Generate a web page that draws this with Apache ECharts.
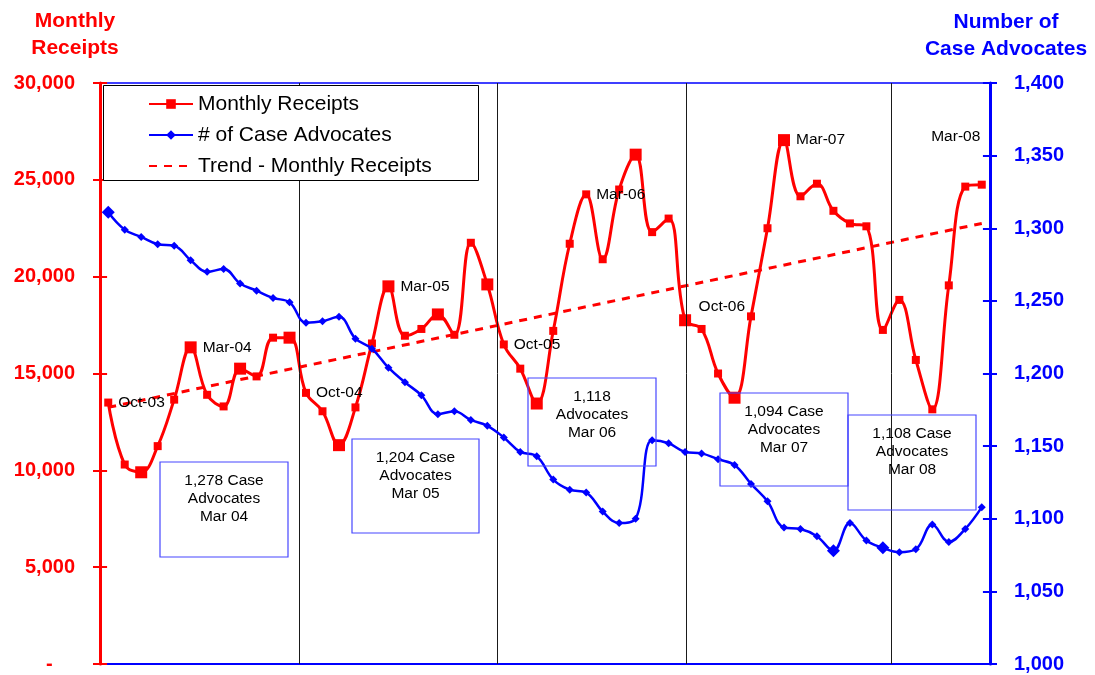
<!DOCTYPE html>
<html>
<head>
<meta charset="utf-8">
<script src="https://cdn.jsdelivr.net/npm/echarts@6/dist/echarts.min.js"></script>
<style>
  html, body { margin: 0; padding: 0; background: #fff; }
  #main { width: 1095px; height: 675px; }
</style>
</head>
<body>
<div id="main"></div>
<script>
// months on the x axis (Oct-03 .. Mar-08)
var months = ['Oct-03','Nov-03','Dec-03','Jan-04','Feb-04','Mar-04','Apr-04','May-04','Jun-04','Jul-04','Aug-04','Sep-04',
  'Oct-04','Nov-04','Dec-04','Jan-05','Feb-05','Mar-05','Apr-05','May-05','Jun-05','Jul-05','Aug-05','Sep-05',
  'Oct-05','Nov-05','Dec-05','Jan-06','Feb-06','Mar-06','Apr-06','May-06','Jun-06','Jul-06','Aug-06','Sep-06',
  'Oct-06','Nov-06','Dec-06','Jan-07','Feb-07','Mar-07','Apr-07','May-07','Jun-07','Jul-07','Aug-07','Sep-07',
  'Oct-07','Nov-07','Dec-07','Jan-08','Feb-08','Mar-08'];

var receipts = [13500, 10300, 9900, 11250, 13650, 16350, 13900, 13300, 15250, 14850, 16850, 16850,
  14000, 13050, 11300, 13250, 16550, 19500, 16950, 17300, 18050, 17000, 21750, 19600,
  16500, 15250, 13450, 17200, 21700, 24250, 20900, 24500, 26300, 22300, 23000, 17750,
  17300, 15000, 13750, 17950, 22500, 27050, 24150, 24800, 23400, 22750, 22600, 17250,
  18800, 15700, 13150, 19550, 24650, 24750];

var advocates = [1311, 1299, 1294, 1289, 1288, 1278, 1270, 1272, 1262, 1257, 1252, 1249,
  1235, 1236, 1239, 1224, 1217, 1204, 1194, 1185, 1172, 1174, 1168, 1164,
  1156, 1146, 1143, 1127, 1120, 1118, 1105, 1097, 1100, 1154, 1152, 1146,
  1145, 1141, 1137, 1124, 1112, 1094, 1093, 1088, 1078, 1097, 1085, 1080,
  1077, 1079, 1096, 1084, 1093, 1108];

// trend line end points (first and last month)
var trendEnds = [13250, 22750];

// tick values of both axes
var receiptTicks = [0, 5000, 10000, 15000, 20000, 25000, 30000];
var advocateTicks = [1000, 1050, 1100, 1150, 1200, 1250, 1300, 1350, 1400];

// point labels on the receipts line
var pointLabels = { 0: 'Oct-03', 5: 'Mar-04', 12: 'Oct-04', 17: 'Mar-05', 24: 'Oct-05',
  29: 'Mar-06', 36: 'Oct-06', 41: 'Mar-07', 53: 'Mar-08' };

// boxed notes
var notes = ['1,278 Case\nAdvocates\nMar 04', '1,204 Case\nAdvocates\nMar 05', '1,118\nAdvocates\nMar 06',
  '1,094 Case\nAdvocates\nMar 07', '1,108 Case\nAdvocates\nMar 08'];

// year divider positions (in month index units)
var dividers = [11.6, 23.6, 35.1, 47.5];

// ---- styling ----
var FONT = 'Arial, "Liberation Sans", sans-serif';
var bigRed = [2, 5, 8, 11, 14, 17, 20, 23, 26, 32, 35, 38, 41];
var bigBlue = [0, 44, 47];
var noteBoxes = [[160, 462, 128, 95], [352, 439, 127, 94], [528, 378, 128, 88], [720, 393, 128, 93], [848, 415, 128, 95]];
var labelOffsets = { 36: [-13, -22], 53: [-26, -30] };
var innerTick = 0.43; // inner tick length in month units (~7px)

var chart = echarts.init(document.getElementById('main'));

function fmtThousands(v) {
  return String(v).replace(/\B(?=(\d{3})+(?!\d))/g, ',');
}

var receiptData = receipts.map(function (v, i) {
  if (pointLabels[i] === undefined) return v;
  var lbl = { show: true, formatter: pointLabels[i], position: i === 53 ? 'top' : 'right', distance: 6,
    color: '#000', fontSize: 15.5, fontFamily: FONT };
  if (labelOffsets[i]) lbl.offset = labelOffsets[i];
  return { value: v, label: lbl };
});

var trendData = receipts.map(function () { return null; });
trendData[0] = trendEnds[0];
trendData[trendData.length - 1] = trendEnds[1];

var graphics = [
  { type: 'rect', left: 103, top: 85, z: 90,
    shape: { width: 375, height: 95 },
    style: { fill: '#fff', stroke: '#000', lineWidth: 1 } },
  { type: 'text', z: 100, style: { text: 'Monthly\nReceipts', x: 75, y: 8, align: 'center', verticalAlign: 'top',
      fill: '#ff0000', font: 'bold 21px ' + FONT, lineHeight: 27 } },
  { type: 'text', z: 100, style: { text: 'Number of\nCase Advocates', x: 1006, y: 9, align: 'center', verticalAlign: 'top',
      fill: '#0000ff', font: 'bold 21px ' + FONT, lineHeight: 27 } }
];
notes.forEach(function (t, i) {
  var b = noteBoxes[i];
  graphics.push({ type: 'rect', z: 50, shape: { x: b[0], y: b[1], width: b[2], height: b[3] },
    style: { fill: 'none', stroke: '#4646ff', lineWidth: 1.2 } });
  graphics.push({ type: 'text', z: 50, style: { text: t, x: b[0] + b[2] / 2, y: b[1] + 10, align: 'center',
    verticalAlign: 'top', fill: '#000', font: '15.5px ' + FONT, lineHeight: 18 } });
});

// inner halves of the crossing axis ticks
function innerTicks(ticks, x0, x1) {
  return ticks.map(function (t) { return [{ coord: [x0, t] }, { coord: [x1, t] }]; });
}

chart.setOption({
  animation: false,
  grid: { left: 100, right: 105, top: 83, bottom: 11, show: true, borderColor: '#0000ff', borderWidth: 1.5 },
  legend: {
    data: ['Monthly Receipts', '# of Case Advocates',
      { name: 'Trend - Monthly Receipts', itemStyle: { opacity: 0 } }],
    orient: 'vertical', left: 148, top: 93, z: 100, padding: 0,
    itemWidth: 44, itemHeight: 12, itemGap: 9,
    textStyle: { fontSize: 21, fontFamily: FONT, color: '#000', lineHeight: 22 }
  },
  xAxis: [
    { type: 'category', data: months, boundaryGap: true,
      axisLine: { lineStyle: { color: '#0000ff', width: 2 } },
      axisTick: { show: false }, axisLabel: { show: false } },
    { type: 'value', min: -0.5, max: 53.5, show: false }
  ],
  yAxis: [
    { type: 'value', position: 'left', min: 0, max: 30000, interval: 5000,
      axisLine: { show: true, onZero: false, lineStyle: { color: '#ff0000', width: 3 } },
      axisTick: { show: true, length: 7, lineStyle: { color: '#ff0000', width: 2 } },
      axisLabel: { color: '#ff0000', fontWeight: 'bold', fontSize: 20, fontFamily: FONT, margin: 25,
        formatter: function (v) { return v === 0 ? '-    ' : fmtThousands(v); } },
      splitLine: { show: false } },
    { type: 'value', position: 'right', min: 1000, max: 1400, interval: 50,
      axisLine: { show: true, onZero: false, lineStyle: { color: '#0000ff', width: 3 } },
      axisTick: { show: true, length: 7, lineStyle: { color: '#0000ff', width: 2 } },
      axisLabel: { color: '#0000ff', fontWeight: 'bold', fontSize: 20, fontFamily: FONT, margin: 24,
        formatter: function (v) { return fmtThousands(v); } },
      splitLine: { show: false } }
  ],
  series: [
    { name: 'year dividers', type: 'line', xAxisIndex: 1, yAxisIndex: 0, data: [], silent: true,
      markLine: { symbol: 'none', silent: true, label: { show: false },
        lineStyle: { color: '#1a1a1a', width: 1, type: 'solid' },
        data: dividers.map(function (d) { return { xAxis: d }; }) } },
    { name: 'left ticks', type: 'line', xAxisIndex: 1, yAxisIndex: 0, data: [], silent: true, z: 6,
      markLine: { symbol: 'none', silent: true, label: { show: false },
        lineStyle: { color: '#ff0000', width: 2, type: 'solid' },
        data: innerTicks(receiptTicks, -0.5, -0.5 + innerTick) } },
    { name: 'right ticks', type: 'line', xAxisIndex: 1, yAxisIndex: 1, data: [], silent: true, z: 6,
      markLine: { symbol: 'none', silent: true, label: { show: false },
        lineStyle: { color: '#0000ff', width: 2, type: 'solid' },
        data: innerTicks(advocateTicks, 53.5 - innerTick, 53.5) } },
    { name: 'Trend - Monthly Receipts', type: 'line', yAxisIndex: 0, data: trendData, connectNulls: true,
      symbol: 'none', z: 3,
      lineStyle: { color: '#ff0000', width: 3, type: [8, 7] }, itemStyle: { color: '#ff0000' } },
    { name: 'Monthly Receipts', type: 'line', yAxisIndex: 0, data: receiptData, smooth: 0.4,
      symbol: 'rect', showAllSymbol: true, z: 4,
      symbolSize: function (v, p) { return bigRed.indexOf(p.dataIndex) >= 0 ? 12 : 8; },
      lineStyle: { color: '#ff0000', width: 3 }, itemStyle: { color: '#ff0000' } },
    { name: '# of Case Advocates', type: 'line', yAxisIndex: 1, data: advocates, smooth: 0.4,
      symbol: 'diamond', showAllSymbol: true, z: 5,
      symbolSize: function (v, p) { return bigBlue.indexOf(p.dataIndex) >= 0 ? 13 : 8; },
      lineStyle: { color: '#0000ff', width: 2.5 }, itemStyle: { color: '#0000ff' } }
  ],
  graphic: graphics
});
</script>
</body>
</html>
